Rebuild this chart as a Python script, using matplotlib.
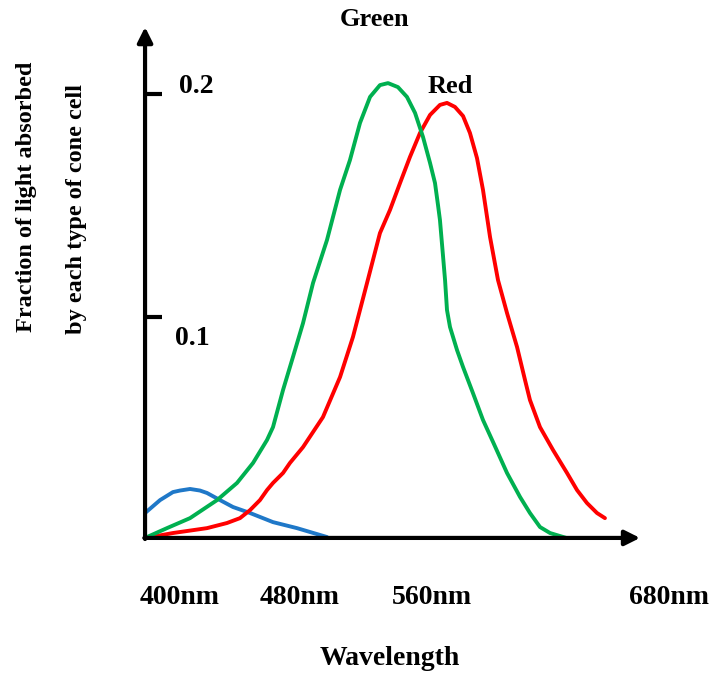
import matplotlib
matplotlib.use('Agg')
import matplotlib.pyplot as plt

# cone absorption curves (wavelength nm, fraction absorbed)
blue_nm = [376.7, 386.7, 395.3, 400, 406.7, 413.3, 418, 426.7, 435.3, 446.7,
           462, 478, 498]
blue_abs = [0.0117, 0.0175, 0.0211, 0.0218, 0.0225, 0.0218, 0.0207, 0.0175,
            0.0144, 0.0117, 0.0076, 0.0049, 0.0009]

green_nm = [376.7, 378, 391.3, 406.7, 424.7, 438, 448.7, 458, 462, 468.7,
            475.3, 482, 488.7, 498, 506.7, 513.3, 520, 526.7, 533.3, 538.7,
            545.3, 551.3, 556.7, 562, 566.7, 570, 572, 573.3, 575.3, 576.7,
            578, 580, 584.7, 588.7, 595.3, 602, 608.7, 618, 626.7, 633.3,
            640, 646.7, 658]
green_abs = [0.0004, 0.0009, 0.0049, 0.0094, 0.0175, 0.0252, 0.0342, 0.0445,
             0.0503, 0.067, 0.0818, 0.097, 0.1151, 0.1344, 0.1569, 0.1703,
             0.187, 0.1987, 0.204, 0.2049, 0.2031, 0.1987, 0.1915, 0.1807,
             0.169, 0.16, 0.1501, 0.1434, 0.1276, 0.1164, 0.1029, 0.0953,
             0.0849, 0.0773, 0.0656, 0.0535, 0.0436, 0.0297, 0.0189, 0.0117,
             0.0054, 0.0027, 0.0004]

red_nm = [376.7, 395.3, 418, 431.3, 440, 446.7, 453.3, 458, 462, 468.7,
          473.3, 482, 495.3, 506.7, 515.3, 524.7, 533.3, 540, 546.7, 553.3,
          560, 566.7, 573.3, 578, 583.3, 588.7, 593.3, 598, 602, 606.7, 612,
          618, 624.7, 630, 633.3, 640, 648.7, 658, 664.7, 671.3, 678, 683.3]
red_abs = [0.0004, 0.0027, 0.0049, 0.0072, 0.0094, 0.013, 0.0175, 0.022,
           0.0252, 0.0297, 0.0342, 0.0413, 0.0548, 0.0728, 0.0908, 0.1151,
           0.1375, 0.1479, 0.16, 0.1717, 0.1825, 0.1906, 0.1951, 0.196,
           0.1942, 0.1901, 0.1825, 0.1712, 0.1569, 0.1357, 0.1164, 0.1016,
           0.0863, 0.0715, 0.0625, 0.0503, 0.04, 0.0297, 0.022, 0.0162,
           0.0117, 0.0094]

y_ticks = [0.1, 0.2]
y_tick_labels = ['0.1', '0.2']
x_tick_labels = ['400nm', '480nm', '560nm', '680nm']

FONT = 'Liberation Serif'

fig = plt.figure(figsize=(7.12, 6.75), dpi=100)
ax = fig.add_axes([0, 0, 1, 1])
# full-figure axes, limits chosen so the drawing sits where it does in the source
ax.set_xlim(280, 754.67)
ax.set_ylim(-0.0611, 0.24225)
ax.axis('off')

x0 = 376.7
x_end = 706.7
y_top = 0.2301

# axis arrows
arrow = dict(arrowstyle='-|>,head_length=0.9,head_width=0.45', lw=3,
             color='black', shrinkA=0, shrinkB=0)
ax.annotate('', xy=(x0, y_top), xytext=(x0, 0), arrowprops=arrow)
ax.annotate('', xy=(x_end, 0.0005), xytext=(x0 - 0.5, 0.0005), arrowprops=arrow)

# y ticks pointing right
for t in y_ticks:
    ax.plot([x0, x0 + 11.5], [t, t], color='black', lw=3, solid_capstyle='butt')

line_kw = dict(lw=2.8, solid_joinstyle='round', solid_capstyle='round')
ax.plot(blue_nm, blue_abs, color='#1f78c8', **line_kw)
ax.plot(red_nm, red_abs, color='#ff0000', **line_kw)
ax.plot(green_nm, green_abs, color='#00b050', **line_kw)

txt = dict(family=FONT, fontweight='bold', ha='center', va='center', color='black')

# tick labels placed as in the source
ax.text(411, 0.2033, y_tick_labels[1], fontsize=20, **txt)
ax.text(408, 0.0903, y_tick_labels[0], fontsize=20, **txt)

x_label_pos = [400, 480, 568, 726]
for xp, lab in zip(x_label_pos, x_tick_labels):
    ax.text(xp, -0.0261, lab, fontsize=20, **txt)

ax.text(540, -0.0535, 'Wavelength', fontsize=20, **txt)
ax.text(530, 0.2333, 'Green', fontsize=19, **txt)
ax.text(580, 0.2036, 'Red', fontsize=19, **txt)

ax.text(298, 0.154, 'Fraction of light absorbed', fontsize=17.5, rotation=90, **txt)
ax.text(331.3, 0.1483, 'by each type of cone cell', fontsize=17.5, rotation=90, **txt)

fig.savefig('out.png', dpi=100)
